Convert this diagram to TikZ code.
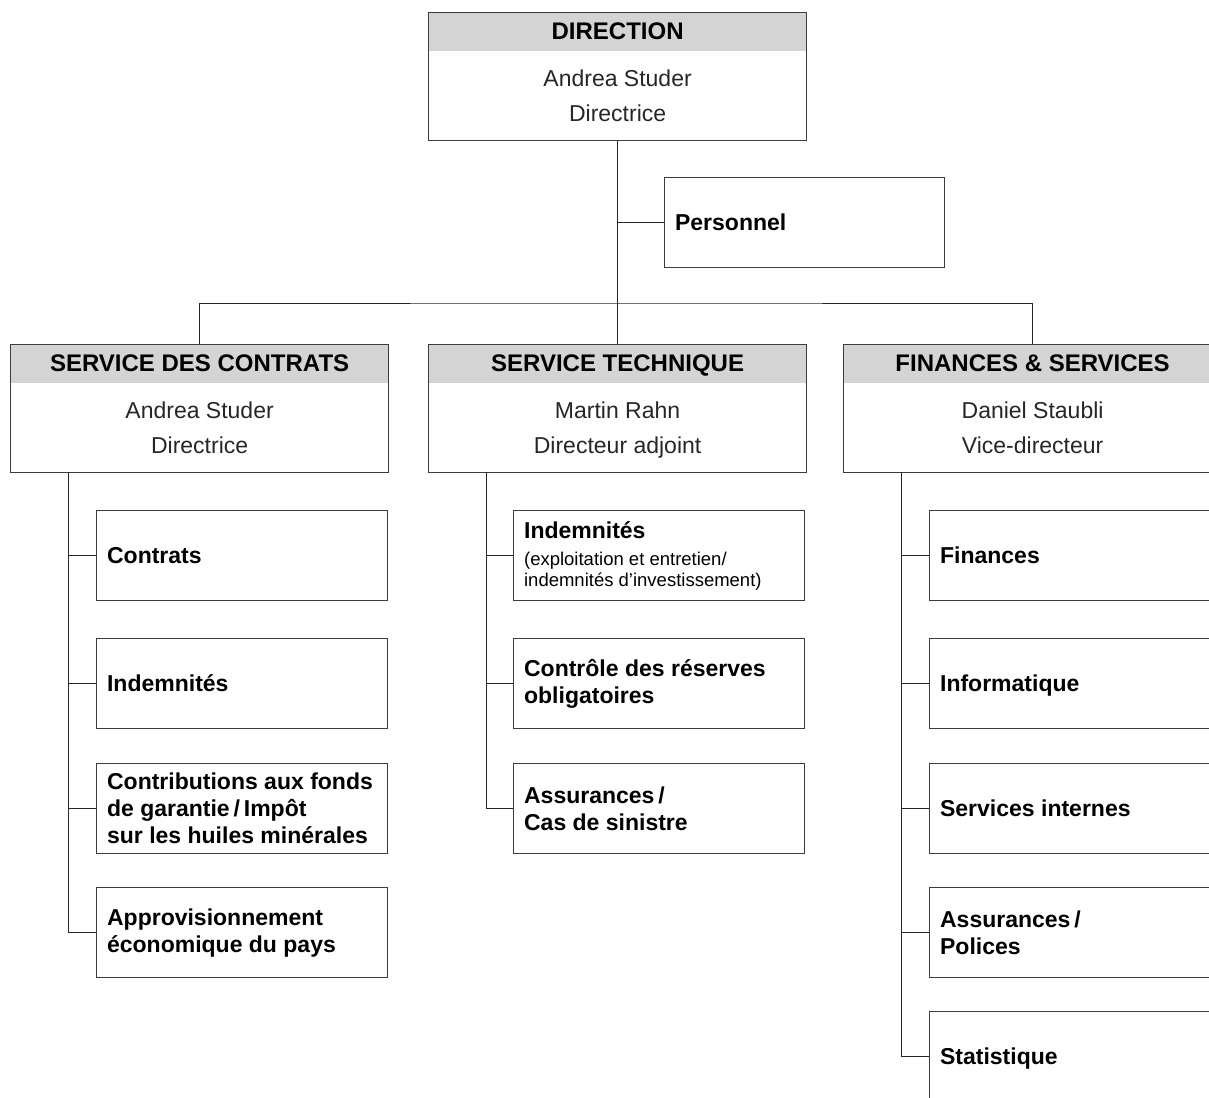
\documentclass[tikz,border=0pt]{standalone}
\usepackage{fontspec}
\setmainfont{Liberation Sans}
\usepackage{tikz}
\definecolor{hdrgray}{RGB}{212,212,212}
\definecolor{boxline}{RGB}{60,60,60}
\newcommand{\smallfont}{\fontsize{18.5}{21}\selectfont\mdseries}

\begin{document}
\begin{tikzpicture}[x=1pt, y=-1pt,
    link/.style={line width=1pt, draw=black!85},
    mainbox/.style={draw=boxline, line width=1.2pt, minimum width=378pt, minimum height=128pt,
        inner sep=0pt, anchor=north west,
        path picture={\fill[hdrgray] (path picture bounding box.north west) rectangle ([yshift=-38pt]path picture bounding box.north east);}},
    headtext/.style={font=\fontsize{24}{28}\selectfont\bfseries, inner sep=0pt, text height=17.2pt, text depth=0pt},
    nametext/.style={font=\fontsize{23}{34.5}\selectfont, text=black!85, align=center, inner sep=0pt, text depth=0pt},
    subbox/.style={draw=boxline, line width=1.2pt, minimum width=291pt, minimum height=90pt,
        text width=270pt, inner xsep=10.5pt, inner ysep=0pt, align=flush left, anchor=north west,
        font=\fontsize{23}{27}\selectfont\bfseries}
  ]

  \clip (0,0) rectangle (1209,1097);

  % Direction
  \node[mainbox] (dir) at (428,12) {};
  \node[headtext] (dirT) at ([yshift=-19pt]dir.north) {DIRECTION};
  \node[nametext] (dirN) at ([yshift=-19pt]dir.center) {Andrea Studer\\Directrice};

  % Personnel
  \node[subbox, minimum width=280pt, text width=259pt] (pers) at (664,177) {Personnel};

  % Trois services
  \node[mainbox] (scd) at (10,344) {};
  \node[headtext] (scdT) at ([yshift=-19pt]scd.north) {SERVICE DES CONTRATS};
  \node[nametext] (scdN) at ([yshift=-19pt]scd.center) {Andrea Studer\\Directrice};

  \node[mainbox] (tech) at (428,344) {};
  \node[headtext] (techT) at ([yshift=-19pt]tech.north) {SERVICE TECHNIQUE};
  \node[nametext] (techN) at ([yshift=-19pt]tech.center) {Martin Rahn\\Directeur adjoint};

  \node[mainbox] (fin) at (843,344) {};
  \node[headtext] (finT) at ([yshift=-19pt]fin.north) {FINANCES \& SERVICES};
  \node[nametext] (finN) at ([yshift=-19pt]fin.center) {Daniel Staubli\\Vice-directeur};

  % Liaisons du haut
  \coordinate (bus) at (617,303);
  \draw[link] (dir.south) -- (tech.north);
  \draw[link] (pers.west) -- (pers.west -| dir.south);
  \draw[link] (scd.north) |- (bus) -| (fin.north);

  % Service des contrats
  \node[subbox] (c1) at (96,510) {Contrats};
  \node[subbox] (c2) at (96,638) {Indemnités};
  \node[subbox] (c3) at (96,763) {Contributions aux fonds\\de garantie\,/\,Impôt\\sur les huiles minérales};
  \node[subbox] (c4) at (96,887) {Approvisionnement\\économique du pays};
  \coordinate (scdR) at (68,472);
  \draw[link] (scdR) |- (c4.west);
  \foreach \n in {c1,c2,c3} \draw[link] (\n.west) -- (\n.west -| scdR);

  % Service technique
  \node[subbox] (t1) at (513,510) {Indemnités\\[6pt]{\smallfont(exploitation et entretien/\\[-6pt]indemnités d’investissement)}};
  \node[subbox] (t2) at (513,638) {Contrôle des réserves\\obligatoires};
  \node[subbox] (t3) at (513,763) {Assurances\,/\\Cas de sinistre};
  \coordinate (techR) at (486,472);
  \draw[link] (techR) |- (t3.west);
  \foreach \n in {t1,t2} \draw[link] (\n.west) -- (\n.west -| techR);

  % Finances & services
  \node[subbox] (f1) at (929,510) {Finances};
  \node[subbox, text depth=0pt] (f2) at (929,638) {Informatique};
  \node[subbox] (f3) at (929,763) {Services internes};
  \node[subbox] (f4) at (929,887) {Assurances\,/\\Polices};
  \node[subbox, text depth=0pt] (f5) at (929,1011) {Statistique};
  \coordinate (finR) at (901,472);
  \draw[link] (finR) |- (f5.west);
  \foreach \n in {f1,f2,f3,f4} \draw[link] (\n.west) -- (\n.west -| finR);

\end{tikzpicture}
\end{document}
